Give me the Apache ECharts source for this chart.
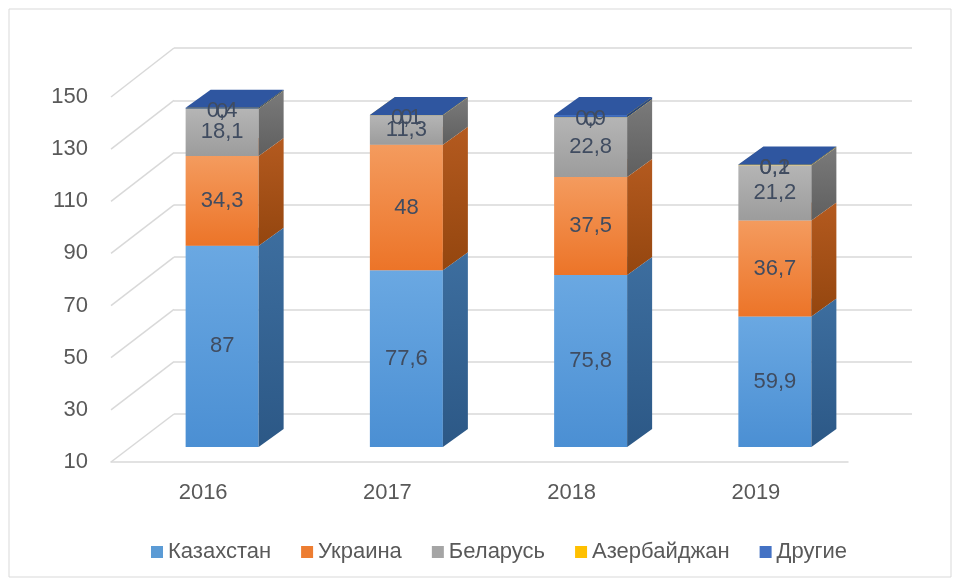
<!DOCTYPE html>
<html><head><meta charset="utf-8">
<script src="https://cdn.jsdelivr.net/npm/echarts@6/dist/echarts.min.js"></script>
<style>html,body{margin:0;padding:0;background:#fff}#c{width:960px;height:582px}</style>
</head><body><div id="c"></div>
<script>
const categories = ['2016', '2017', '2018', '2019'];
const kazakhstan = [87, 77.6, 75.8, 59.9];
const ukraine = [34.3, 48, 37.5, 36.7];
const belarus = [18.1, 11.3, 22.8, 21.2];
const azerbaijan = [0, 0, 0, 0.1];
const others = [0.4, 0.1, 0.9, 0.2];
const seriesNames = ['Казахстан', 'Украина', 'Беларусь', 'Азербайджан', 'Другие'];
const yTicks = [10, 30, 50, 70, 90, 110, 130, 150];

const FONT = 'Liberation Sans';
const YMIN = 10;
const DX = 25, DY = -18, BW = 73;
const styles = [
  {front: ['#6aa8e2', '#4b8fd3'], side: ['#3d6e9f', '#2c5886'], top: '#8ab9e6', legend: '#5b9bd5'},
  {front: ['#f49b5e', '#ec7428'], side: ['#b45a1f', '#94460f'], top: '#f7ad7c', legend: '#ed7d31'},
  {front: ['#b5b5b5', '#9c9c9c'], side: ['#7a7a7a', '#5f5f5f'], top: '#c9c9c9', legend: '#a5a5a5'},
  {front: ['#ffc000', '#f0b400'], side: ['#c99400', '#b08200'], top: '#ffc000', legend: '#ffc000'},
  {front: ['#4472c4', '#3a64b0'], side: ['#2a4c8a', '#213f75'], top: '#2f56a0', legend: '#4472c4'}
];
const values = [kazakhstan, ukraine, belarus, azerbaijan, others];

function fmt(v) { return String(v).replace('.', ','); }

const series = [];
values.forEach((arr, si) => {
  const data = arr.map((v, ci) => {
    let base = 0;
    for (let k = 0; k < si; k++) base += values[k][ci];
    return [ci, Math.max(base, YMIN), base + v, v];
  });
  const st = styles[si];
  series.push({
    name: seriesNames[si], type: 'custom', xAxisIndex: 2, yAxisIndex: 2,
    itemStyle: {color: st.legend},
    data: data,
    renderItem: function (params, api) {
      const ci = api.value(0), b = api.value(1), t = api.value(2), v = api.value(3);
      const p0 = api.coord([ci, b]), p1 = api.coord([ci, t]);
      const xl = p0[0] - BW / 2, xr = p0[0] + BW / 2;
      const yb = p0[1], yt = p1[1];
      const small = (yb - yt) < 8;
      const children = [
        {type: 'rect', shape: {x: xl, y: yt, width: BW, height: Math.max(yb - yt, 0)},
         style: {fill: {type: 'linear', x: 0, y: 0, x2: 0, y2: 1, colorStops: [{offset: 0, color: st.front[0]}, {offset: 1, color: st.front[1]}]}}},
        {type: 'polygon', shape: {points: [[xr, yt], [xr + DX, yt + DY], [xr + DX, yb + DY], [xr, yb]]},
         style: {fill: {type: 'linear', x: 0, y: 0, x2: 0, y2: 1, colorStops: [{offset: 0, color: st.side[0]}, {offset: 1, color: st.side[1]}]}}},
        {type: 'polygon', shape: {points: [[xl, yt], [xl + DX, yt + DY], [xr + DX, yt + DY], [xr, yt]]},
         style: {fill: st.top}},
        {type: 'text', z2: 10, style: {text: fmt(v), x: p0[0], y: (yt + yb) / 2 + (small ? 3 : 0), align: 'center', verticalAlign: 'middle',
          fill: '#404c60', font: '22px "' + FONT + '"'}}
      ];
      return {type: 'group', children: children};
    }
  });
});

const chart = echarts.init(document.getElementById('c'), null, {renderer: 'canvas'});
const yBase = {type: 'value', min: 10, max: 150, interval: 20};
chart.setOption({
  animation: false,
  backgroundColor: '#fff',
  grid: [
    {left: 111, right: 112, top: 97, bottom: 120},
    {left: 174, right: 48, top: 48, bottom: 168},
    {left: 130, right: 93, top: 81, bottom: 135}
  ],
  xAxis: [
    {gridIndex: 0, type: 'category', data: categories, axisLine: {lineStyle: {color: '#d9d9d9', width: 1.5}}, axisTick: {show: false},
     axisLabel: {color: '#595959', fontSize: 22, fontFamily: FONT, margin: 20}},
    {gridIndex: 1, type: 'category', data: categories, show: false},
    {gridIndex: 2, type: 'category', data: categories, show: false}
  ],
  yAxis: [
    Object.assign({gridIndex: 0, axisLine: {show: false}, axisTick: {show: false}, splitLine: {show: false},
      axisLabel: {color: '#595959', fontSize: 22, fontFamily: FONT, margin: 23}}, yBase),
    Object.assign({gridIndex: 1, axisLine: {show: false}, axisTick: {show: false}, axisLabel: {show: false},
      splitLine: {lineStyle: {color: '#d9d9d9', width: 1.5}}}, yBase),
    Object.assign({gridIndex: 2, show: false}, yBase)
  ],
  legend: {bottom: 14, left: 146, icon: 'rect', itemWidth: 12, itemHeight: 12, itemGap: 30,
    textStyle: {color: '#595959', fontSize: 22, fontFamily: FONT}, data: seriesNames},
  series: series
});

const lines = yTicks.map(v => {
  const a = chart.convertToPixel({gridIndex: 0}, [0, v]);
  const b = chart.convertToPixel({gridIndex: 1}, [0, v]);
  return {type: 'line', z: -1, silent: true, shape: {x1: 111, y1: a[1], x2: 174, y2: b[1]}, style: {stroke: '#d9d9d9', lineWidth: 1.5}};
});
lines.push({type: 'rect', z: -2, silent: true, shape: {x: 9, y: 9, width: 942, height: 568}, style: {fill: 'none', stroke: '#d9d9d9', lineWidth: 1}});
chart.setOption({graphic: lines});
</script></body></html>
